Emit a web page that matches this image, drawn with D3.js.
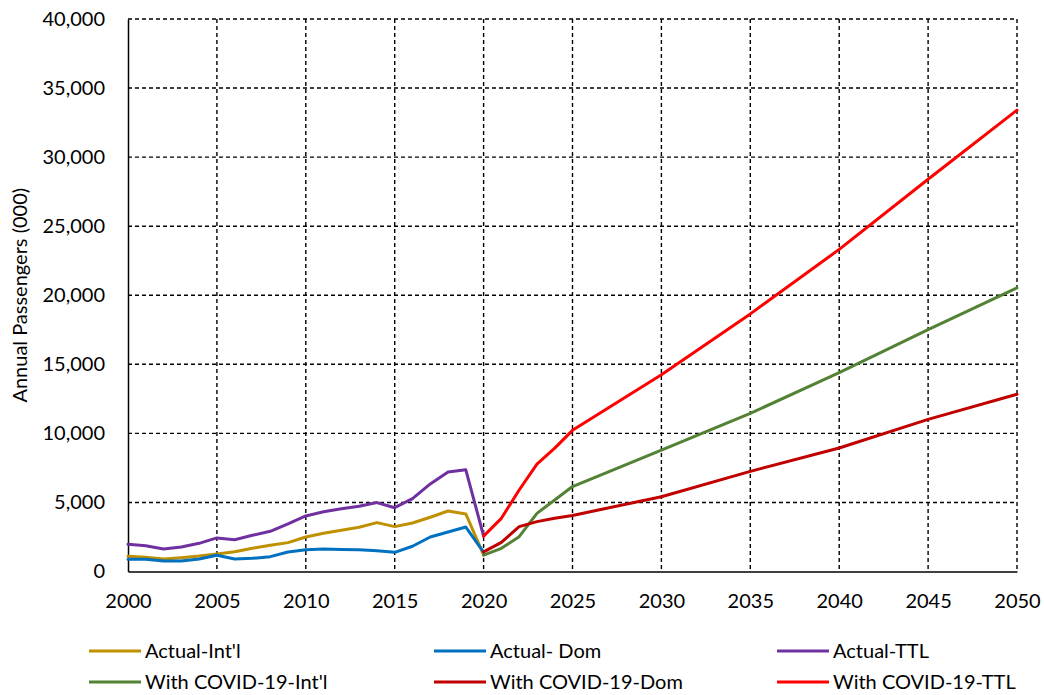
<!DOCTYPE html>
<html>
<head>
<meta charset="utf-8">
<script src="https://cdn.jsdelivr.net/npm/d3@7"></script>
<style>
  html, body { margin: 0; padding: 0; background: #fff; }
  svg { display: block; }
  text { font-family: Lato, "Open Sans", sans-serif; fill: #000; }
</style>
</head>
<body>
<svg id="chart" width="1044" height="695"></svg>
<script>
// Historical passenger counts (thousands)
const yearsActual = [2000, 2001, 2002, 2003, 2004, 2005, 2006, 2007, 2008, 2009, 2010,
                     2011, 2012, 2013, 2014, 2015, 2016, 2017, 2018, 2019, 2020];
const actualIntl = [1100, 1030, 905, 1000, 1120, 1270, 1435, 1680, 1900, 2090, 2500,
                    2770, 2990, 3200, 3540, 3250, 3510, 3930, 4380, 4170, 1200];
const actualDom  = [880, 880, 760, 760, 905, 1170, 905, 955, 1075, 1410, 1580,
                    1630, 1600, 1580, 1510, 1390, 1830, 2500, 2860, 3220, 1400];
const actualTtl  = [1970, 1870, 1630, 1775, 2040, 2430, 2300, 2620, 2910, 3440, 4020,
                    4330, 4550, 4720, 4990, 4620, 5280, 6340, 7210, 7360, 2570];

// Forecast with COVID-19 impact (thousands)
const yearsForecast = [2020, 2021, 2022, 2023, 2024, 2025, 2030, 2035, 2040, 2045, 2050];
const covidIntl = [1180, 1680, 2520, 4210, 5180, 6150, 8790, 11450, 14400, 17510, 20530];
const covidDom  = [1420, 2110, 3250, 3610, 3850, 4060, 5410, 7250, 8940, 11010, 12830];
const covidTtl  = [2560, 3850, 5900, 7770, 8930, 10220, 14240, 18650, 23320, 28400, 33400];

// Axis ticks
const xTicks = [2000, 2005, 2010, 2015, 2020, 2025, 2030, 2035, 2040, 2045, 2050];
const yTicks = [0, 5000, 10000, 15000, 20000, 25000, 30000, 35000, 40000];

const seriesNames  = ["Actual-Int'l", "Actual- Dom", "Actual-TTL",
                      "With COVID-19-Int'l", "With COVID-19-Dom", "With COVID-19-TTL"];
const seriesColors = ["#BF9000", "#0070C0", "#7030A0", "#548235", "#C00000", "#FF0000"];

const series = [
  { years: yearsActual, values: actualIntl },
  { years: yearsActual, values: actualDom },
  { years: yearsActual, values: actualTtl },
  { years: yearsForecast, values: covidIntl },
  { years: yearsForecast, values: covidDom },
  { years: yearsForecast, values: covidTtl }
].map((s, i) => ({
  name: seriesNames[i],
  color: seriesColors[i],
  points: s.years.map((yr, j) => ({ year: yr, value: s.values[j] }))
}));

const svg = d3.select("#chart");
const plot = { left: 128, right: 1017, top: 19, bottom: 571.5 };

const x = d3.scaleLinear().domain([2000, 2050]).range([plot.left, plot.right]);
const y = d3.scaleLinear().domain([0, 40000]).range([plot.bottom, plot.top]);

// Dashed grid
const grid = svg.append("g").attr("class", "grid")
  .attr("stroke", "#000").attr("stroke-width", 1.4).attr("stroke-dasharray", "4,3");
grid.selectAll("line.h").data(yTicks.filter(d => d > 0)).join("line")
  .attr("class", "h")
  .attr("x1", plot.left).attr("x2", plot.right)
  .attr("y1", d => y(d)).attr("y2", d => y(d));
grid.selectAll("line.v").data(xTicks.filter(d => d > 2000)).join("line")
  .attr("class", "v")
  .attr("y1", plot.top).attr("y2", plot.bottom)
  .attr("x1", d => x(d)).attr("x2", d => x(d));

// Y axis
const yAxis = svg.append("g")
  .attr("transform", `translate(${plot.left},0)`)
  .call(d3.axisLeft(y).tickValues(yTicks).tickFormat(d3.format(",")).tickSize(0).tickPadding(23));
yAxis.select(".domain").attr("stroke", "#000").attr("stroke-width", 1.5);
yAxis.selectAll("text").attr("font-size", 20).attr("font-family", "Lato, 'Open Sans', sans-serif");

// X axis
const xAxis = svg.append("g")
  .attr("transform", `translate(0,${plot.bottom})`)
  .call(d3.axisBottom(x).tickValues(xTicks).tickFormat(d3.format("d")).tickSize(0).tickPadding(22));
xAxis.select(".domain").attr("stroke", "#000").attr("stroke-width", 1.5);
xAxis.selectAll("text").attr("font-size", 20).attr("font-family", "Lato, 'Open Sans', sans-serif");

// Y axis title
svg.append("text")
  .attr("transform", `translate(27,${(plot.top + plot.bottom) / 2}) rotate(-90)`)
  .attr("text-anchor", "middle")
  .attr("font-size", 20)
  .text("Annual Passengers (000)");

// Series lines
const line = d3.line().x(d => x(d.year)).y(d => y(d.value));
svg.append("g").selectAll("path").data(series).join("path")
  .attr("fill", "none")
  .attr("stroke", d => d.color)
  .attr("stroke-width", 3)
  .attr("stroke-linejoin", "round")
  .attr("stroke-linecap", "round")
  .attr("d", d => line(d.points));

// Legend: three columns, two rows
const legendCols = [89, 434, 777];
const legendRows = [651, 682];
const legend = svg.append("g").selectAll("g").data(series).join("g")
  .attr("transform", (d, i) => `translate(${legendCols[i % 3]},${legendRows[Math.floor(i / 3)]})`);
legend.append("line")
  .attr("x1", 0).attr("x2", 52).attr("y1", 0).attr("y2", 0)
  .attr("stroke", d => d.color).attr("stroke-width", 3);
legend.append("text")
  .attr("x", 56).attr("y", 0).attr("dy", "0.35em")
  .attr("font-size", 20)
  .text(d => d.name);
</script>
</body>
</html>
